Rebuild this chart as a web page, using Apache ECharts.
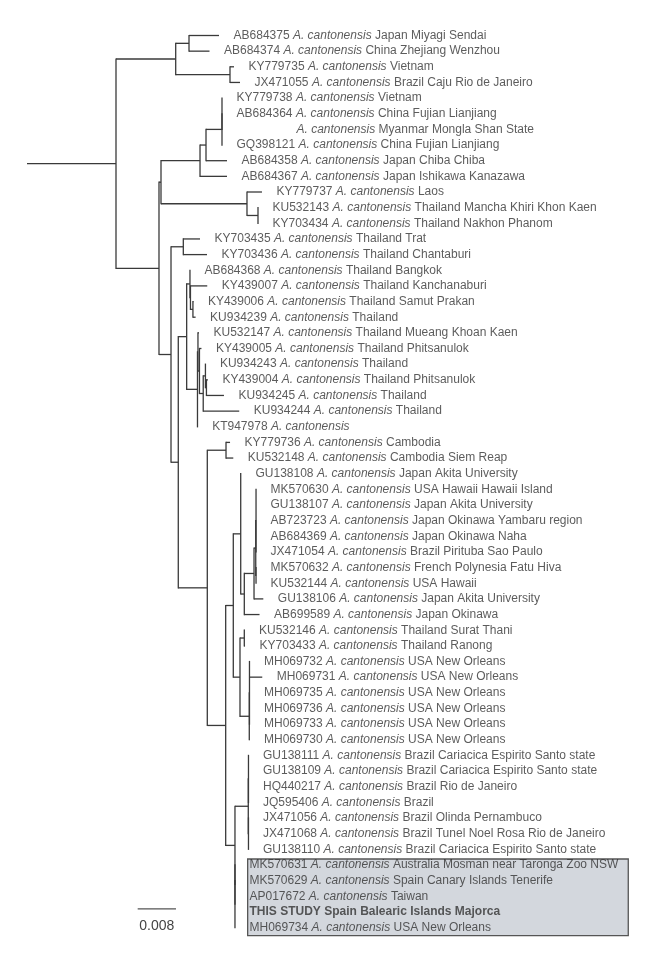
<!DOCTYPE html>
<html><head><meta charset="utf-8">
<script src="https://cdn.jsdelivr.net/npm/echarts@6/dist/echarts.min.js"></script>
<style>html,body{margin:0;padding:0;background:#fff}#c{width:656px;height:954px}</style>
</head><body><div id="c"></div>
<script>
// ---- leaf labels (top to bottom) ----
const accessions = ['AB684375','AB684374','KY779735','JX471055','KY779738','AB684364','','GQ398121','AB684358','AB684367',
  'KY779737','KU532143','KY703434','KY703435','KY703436','AB684368','KY439007','KY439006','KU934239','KU532147',
  'KY439005','KU934243','KY439004','KU934245','KU934244','KT947978','KY779736','KU532148','GU138108','MK570630',
  'GU138107','AB723723','AB684369','JX471054','MK570632','KU532144','GU138106','AB699589','KU532146','KY703433',
  'MH069732','MH069731','MH069735','MH069736','MH069733','MH069730','GU138111','GU138109','HQ440217','JQ595406',
  'JX471056','JX471068','GU138110','MK570631','MK570629','AP017672','THIS STUDY','MH069734'];
const places = ['Japan Miyagi Sendai','China Zhejiang Wenzhou','Vietnam','Brazil Caju Rio de Janeiro','Vietnam',
  'China Fujian Lianjiang','Myanmar Mongla Shan State','China Fujian Lianjiang','Japan Chiba Chiba','Japan Ishikawa Kanazawa',
  'Laos','Thailand Mancha Khiri Khon Kaen','Thailand Nakhon Phanom','Thailand Trat','Thailand Chantaburi',
  'Thailand Bangkok','Thailand Kanchanaburi','Thailand Samut Prakan','Thailand','Thailand Mueang Khoan Kaen',
  'Thailand Phitsanulok','Thailand','Thailand Phitsanulok','Thailand','Thailand','',
  'Cambodia','Cambodia Siem Reap','Japan Akita University','USA Hawaii Hawaii Island','Japan Akita University',
  'Japan Okinawa Yambaru region','Japan Okinawa Naha','Brazil Pirituba Sao Paulo','French Polynesia Fatu Hiva','USA Hawaii',
  'Japan Akita University','Japan Okinawa','Thailand Surat Thani','Thailand Ranong',
  'USA New Orleans','USA New Orleans','USA New Orleans','USA New Orleans','USA New Orleans','USA New Orleans',
  'Brazil Cariacica Espirito Santo state','Brazil Cariacica Espirito Santo state','Brazil Rio de Janeiro','Brazil',
  'Brazil Olinda Pernambuco','Brazil Tunel Noel Rosa Rio de Janeiro','Brazil Cariacica Espirito Santo state',
  'Australia Mosman near Taronga Zoo NSW','Spain Canary Islands Tenerife','Taiwan','Spain Balearic Islands Majorca','USA New Orleans'];
const speciesName = 'A. cantonensis';
const thisStudyLeaf = 56;
const highlightLeaves = [53, 57];

// ---- tree: [node, parent, branch length] (leaves are L<index>) ----
const rootStem = 0.01859;
const branches = [
  ['top','root',0.01247],['t01','top',0.00278],['L0','t01',0.00627],['L1','t01',0.00428],
  ['t23','top',0.01134],['L2','t23',0.00084],['L3','t23',0.00209],
  ['n2','root',0.00898],['n3','n2',0.00042],
  ['a','n3',0.00815],['a1','a',0.00125],['x','a1',0.00334],['y','x',0],
  ['L4','y',0],['L5','y',0],['L6','y',0],['L7','x',0],['L8','a1',0.00439],['L9','a',0.00564],
  ['b','n3',0.01796],['L10','b',0.00313],['b1','b',0.0023],['L11','b1',0],['L12','b1',0],
  ['n4','n2',0.00251],['c','n4',0.00257],['L13','c',0.00349],['L14','c',0.00495],
  ['n5','n4',0.00152],['t1','n5',0.00175],
  ['s1','t1',0.00069],['L15','s1',0],['s1a','s1',0.0001],['L16','s1a',0.00351],['s1b','s1a',0.00052],
  ['L17','s1b',0.0001],['L18','s1b',0.00056],
  ['s2','t1',0.00226],['s2a','s2',0.0001],['L19','s2a',0.00021],['s2b','s2a',0.00031],['L20','s2b',0.00042],
  ['s2c','s2b',0.00079],['s2d','s2c',0.00046],['L21','s2d',0],['s2e','s2d',0.00021],['L22','s2e',0.00031],
  ['L23','s2e',0.00366],['L24','s2c',0.00752],['L25','s2',0.00004],
  ['l','n5',0.00606],['k','l',0.00391],['L26','k',0.00084],['L27','k',0.00152],
  ['m','l',0.00384],['p','m',0.00159],['p1','p',0.00155],['L28','p1',0.00006],['p2','p1',0.00075],
  ['p3','p2',0.00203],['p4','p3',0.00036],['p4a','p4',0.00006],
  ['L29','p4a',0],['L30','p4a',0],['L31','p4a',0],['L32','p4a',0],['L33','p4a',0],
  ['p4b','p4',0.00006],['L34','p4b',0],['L35','p4b',0],['L36','p3',0.00194],['L37','p2',0.00318],
  ['p5','p',0.0014],['th','p5',0.0009],['L38','th',0.00004],['L39','th',0.00015],
  ['no','p5',0.00194],['no1','no',0.00004],['L40','no1',0],['L41','no1',0.00267],['L42','no1',0],
  ['L43','no1',0],['L44','no1',0],['L45','no',0.00004],
  ['q','m',0.00194],['r','q',0.00278],['r1','r',0.00004],['L46','r1',0],['L47','r1',0],['L48','r1',0],['L49','r1',0],
  ['r2','r',0.00004],['L50','r2',0],['L51','r2',0],['L52','r2',0],
  ['z','q',0],['L53','z',0],['z2','z',0],['L54','z2',0],['L55','z2',0],['L56','z2',0],['L57','z2',0]
];
const scaleBarStart = 0.02312;
const scaleBarLength = 0.008;
const scaleBarLabel = '0.008';

// ---- layout computed from the tree ----
const children = {}, parentOf = {}, lenOf = {};
branches.forEach(([n, p, len]) => { (children[p] = children[p] || []).push(n); parentOf[n] = p; lenOf[n] = len; });
const depth = {}, ypos = {};
function setDepth(n, d) { depth[n] = d; (children[n] || []).forEach(c => setDepth(c, d + lenOf[c])); }
setDepth('root', rootStem);
function setY(n) {
  if (n[0] === 'L' && !children[n]) { ypos[n] = +n.slice(1); return ypos[n]; }
  const ys = children[n].map(setY);
  ypos[n] = (Math.min(...ys) + Math.max(...ys)) / 2; return ypos[n];
}
setY('root');
const allNodes = ['root'].concat(branches.map(b => b[0]));
const branchData = allNodes.map(n => {
  const x0 = n === 'root' ? 0 : depth[parentOf[n]];
  const ch = children[n];
  const ys = ch ? ch.map(c => ypos[c]) : [ypos[n]];
  return [x0, depth[n], ypos[n], Math.min(...ys), Math.max(...ys)];
});
const leafData = accessions.map((a, i) => [depth['L' + i], i]);

const FONT = '"Liberation Sans", Arial, Helvetica, sans-serif';
const TXT = '#333';
const LINE = '#3a3a3a';

function leafLabel(i) {
  if (i === thisStudyLeaf) return '{b|' + accessions[i] + ' ' + places[i] + '}';
  const acc = accessions[i];
  const head = acc ? acc + ' ' : '{pad| }';
  return head + '{it|' + speciesName + '}' + (places[i] ? ' ' + places[i] : '');
}

const chart = echarts.init(document.getElementById('c'), null, { renderer: 'canvas' });
const PXU = 4787.5; // pixels per substitution unit (scale)
chart.setOption({
  animation: false,
  backgroundColor: '#fff',
  grid: { left: 0, right: 0, top: 0, bottom: 0 },
  xAxis: { type: 'value', min: -27 / PXU, max: (656 - 27) / PXU, show: false },
  yAxis: { type: 'value', inverse: true, min: -35.5 / 15.65, max: (954 - 35.5) / 15.65, show: false },
  series: [
    { // highlight box
      type: 'custom', z: 1, silent: true,
      data: [[depth['L' + highlightLeaves[0]], highlightLeaves[0], highlightLeaves[1]]],
      renderItem(params, api) {
        const tl = api.coord([api.value(0), api.value(1) - 0.38]);
        const br = api.coord([api.value(0), api.value(2) + 0.52]);
        return { type: 'rect', shape: { x: tl[0] + 12.7, y: tl[1], width: 380.6, height: br[1] - tl[1] },
          style: { fill: '#d3d7dd', stroke: '#555', lineWidth: 1.3 } };
      }
    },
    { // branches
      type: 'custom', z: 2, silent: true,
      data: branchData,
      renderItem(params, api) {
        const x0 = api.value(0), x1 = api.value(1), y = api.value(2), yt = api.value(3), yb = api.value(4);
        const a = api.coord([x0, y]), b = api.coord([x1, y]);
        const st = { stroke: LINE, lineWidth: 1.3 };
        const els = [{ type: 'line', shape: { x1: a[0], y1: a[1], x2: b[0], y2: b[1] }, style: st }];
        if (yb > yt) {
          const t = api.coord([x1, yt]), u = api.coord([x1, yb]);
          els.push({ type: 'line', shape: { x1: t[0], y1: t[1] - 0.6, x2: u[0], y2: u[1] + 0.6 }, style: st });
        }
        return { type: 'group', children: els };
      }
    },
    { // leaf labels
      type: 'scatter', z: 3, silent: true,
      symbolSize: 1, itemStyle: { color: 'rgba(0,0,0,0)' },
      data: leafData,
      label: {
        show: true, position: 'right', distance: 14,
        fontFamily: FONT, fontSize: 12, color: TXT,
        formatter: p => leafLabel(p.dataIndex),
        rich: {
          it: { fontStyle: 'italic', fontFamily: FONT, fontSize: 12, color: TXT },
          b: { fontWeight: 'bold', fontFamily: FONT, fontSize: 12, color: TXT },
          pad: { width: 60, fontFamily: FONT, fontSize: 12 }
        }
      }
    },
    { // scale bar
      type: 'custom', z: 2, silent: true,
      data: [[scaleBarStart, 55.81]],
      renderItem(params, api) {
        const a = api.coord([api.value(0), api.value(1)]);
        const b = api.coord([api.value(0) + scaleBarLength, api.value(1)]);
        return { type: 'group', children: [
          { type: 'line', shape: { x1: a[0], y1: a[1], x2: b[0], y2: b[1] }, style: { stroke: '#555', lineWidth: 1.3 } },
          { type: 'text', style: { text: scaleBarLabel, x: (a[0] + b[0]) / 2, y: a[1] + 10, align: 'center', verticalAlign: 'top',
            font: '14px ' + FONT, fill: '#444' } }
        ] };
      }
    }
  ]
});
</script></body></html>
